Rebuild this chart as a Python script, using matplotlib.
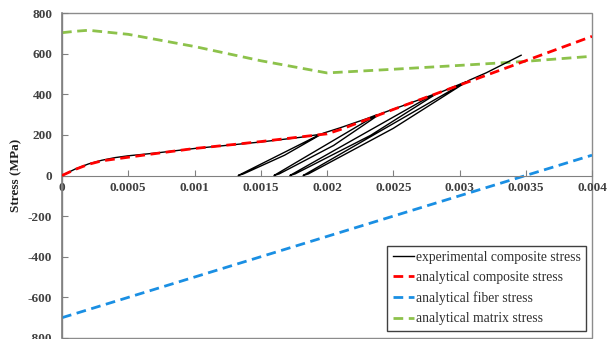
import matplotlib.pyplot as plt
from matplotlib.patches import Rectangle

# strain / stress values
exp_strain = [0, 0.0001, 0.0002, 0.0003, 0.0004, 0.0005, 0.0007, 0.001, 0.0013,
              0.0015, 0.0018, 0.00195,
              0.00133, 0.00137, 0.00168, 0.00197,
              0.0021, 0.0023, 0.00238,
              0.0016, 0.00164, 0.00205, 0.0024,
              0.0026, 0.0028,
              0.00172, 0.00176, 0.00233, 0.00282,
              0.00305,
              0.00182, 0.00186, 0.0025, 0.00307,
              0.0032, 0.003465]
exp_stress = [0, 32, 57, 75, 88, 97, 110, 133, 152,
              165, 188, 203,
              0, 8, 100, 208,
              235, 280, 300,
              0, 8, 148, 303,
              350, 398,
              0, 8, 198, 400,
              462,
              0, 8, 232, 468,
              505, 592]

ana_strain = [0, 0.0001, 0.0002, 0.0003, 0.0005, 0.00075, 0.001, 0.0013, 0.0015,
              0.0018, 0.002, 0.0021, 0.0025, 0.003, 0.0035, 0.004]
ana_stress = [0, 30, 55, 72, 90, 112, 133, 153, 167,
              190, 205, 226, 325, 445, 565, 685]

fib_strain = [0, 0.004]
fib_stress = [-700, 100]

mat_strain = [0, 0.0001, 0.0002, 0.0005, 0.001, 0.0015, 0.002, 0.0025, 0.003, 0.0035, 0.004]
mat_stress = [703, 710, 715, 695, 635, 565, 505, 523, 542, 562, 587]

plt.rcParams['font.family'] = 'Liberation Serif'
plt.rcParams['axes.unicode_minus'] = False

fig = plt.figure(figsize=(6.08, 3.39), dpi=100)
ax = fig.add_axes([62 / 608, 1 / 339, 530 / 608, 325 / 339])

ax.plot(exp_strain, exp_stress, color='black', lw=1.0,
        label='experimental composite stress', zorder=5)
ax.plot(ana_strain, ana_stress, color='#ff0000', lw=2, dashes=(3.5, 2),
        label='analytical composite stress', zorder=6)
ax.plot(fib_strain, fib_stress, color='#1a8fe3', lw=2, dashes=(3.5, 2),
        label='analytical fiber stress')
ax.plot(mat_strain, mat_stress, color='#8dc24b', lw=2, dashes=(3.5, 2),
        label='analytical matrix stress')

ax.set_xlim(0, 0.004)
ax.set_ylim(-800, 800)
ax.set_xticks([0, 0.0005, 0.001, 0.0015, 0.002, 0.0025, 0.003, 0.0035, 0.004])
ax.set_xticklabels(['0', '0.0005', '0.001', '0.0015', '0.002', '0.0025', '0.003', '0.0035', '0.004'])
ax.set_yticks(range(-800, 801, 200))

ax.spines['bottom'].set_position(('data', 0))
ax.spines['bottom'].set_color('#808080')
ax.spines['left'].set_color('#808080')
ax.spines['left'].set_linewidth(1.2)
for s in ['top', 'right']:
    ax.spines[s].set_visible(False)
ax.add_patch(Rectangle((0, 0), 1, 1, transform=ax.transAxes, fill=False,
                       edgecolor='#8c8c8c', lw=1, clip_on=False, zorder=0))

ax.tick_params(axis='both', direction='in', length=4, color='#808080',
               labelsize=9.5, labelcolor='#404040')
ax.tick_params(axis='x', pad=5)
ax.tick_params(axis='y', pad=7)
for lab in ax.get_xticklabels() + ax.get_yticklabels():
    lab.set_fontweight('bold')

ax.set_ylabel('Stress (MPa)', fontsize=9.5, fontweight='bold', color='#202020')
ax.yaxis.set_label_coords(-0.074, 0.5)

leg = ax.legend(loc='lower right', bbox_to_anchor=(0.9887, 0.022), borderaxespad=0,
                fontsize=9.8, handlelength=1.6, handletextpad=0.1, labelspacing=0.53,
                borderpad=0.4, fancybox=False, framealpha=1, edgecolor='#404040')
leg.get_frame().set_linewidth(1)
for t in leg.get_texts():
    t.set_color('#303030')

fig.savefig('out.png', dpi=100)
